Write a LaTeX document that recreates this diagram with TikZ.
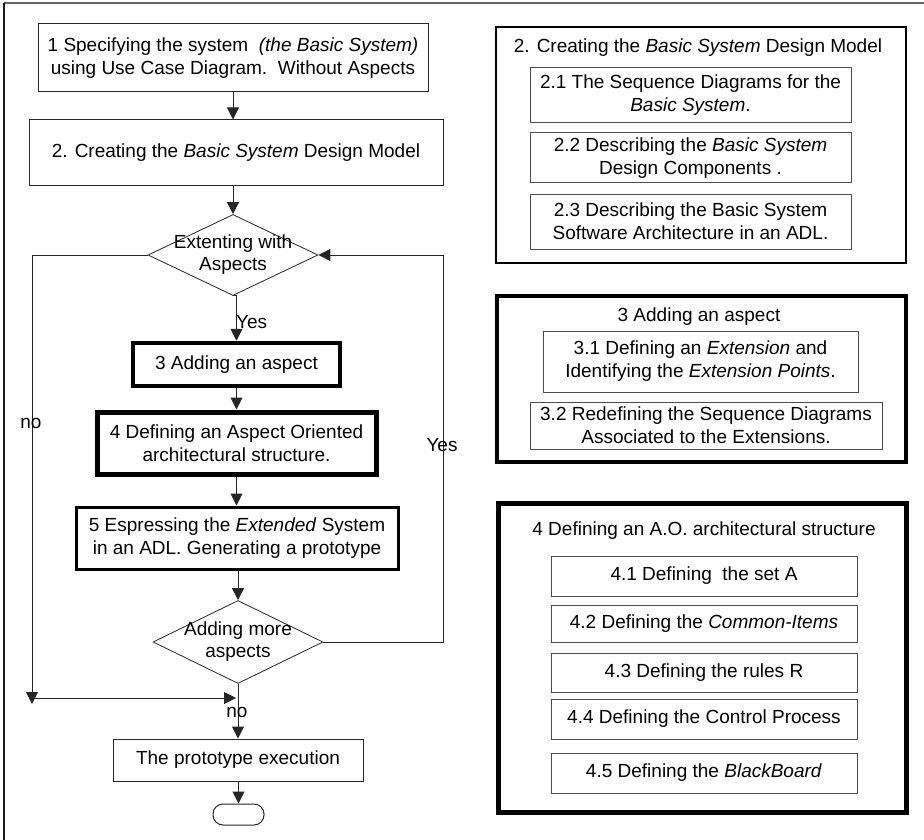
\documentclass[tikz,border=0pt]{standalone}
\usepackage{fontspec}
\setmainfont{Liberation Sans}
\usetikzlibrary{shapes.geometric,arrows.meta}

\begin{document}
\begin{tikzpicture}[x=1pt,y=-1pt,
  every node/.style={font=\fontsize{19}{23}\selectfont},
  proc/.style={draw=black!85, line width=1pt, inner sep=0pt, align=center},
  sub/.style={draw=black!70, line width=1pt, inner sep=0pt, align=center},
  heavy/.style={draw=black, line width=#1, inner sep=0pt, align=center},
  decide/.style={diamond, draw=black!85, line width=0.8pt, inner sep=0pt},
  flow/.style={draw=black!85, line width=1pt, -{Triangle[length=12pt,width=12pt]}},
  tag/.style={inner sep=0pt}
]
\useasboundingbox (0,0) rectangle (924,840);

% page frame
\draw[line width=1.2pt, black!60] (4,3) -- (926,3);
\draw[line width=1.2pt, black!90] (4,3) -- (4,842);

% ---------- main flow ----------
\node[proc, minimum width=390, minimum height=68] (b1) at (233,58)
  {1 Specifying the system \ \textit{(the Basic System)}\\using Use Case Diagram.\ \ Without Aspects};
\node[proc, minimum width=414, minimum height=66] (b2) at (236,153)
  {2. Creating the \textit{Basic System} Design Model};
\node[decide, minimum width=170, minimum height=81,
      label={[align=center, font=\fontsize{19}{22}\selectfont]center:Extenting with\\Aspects}] (d1) at (233,255) {};
\node[heavy=4.5pt, minimum width=207, minimum height=43] (b3) at (236.5,364.5)
  {3 Adding an aspect};
\node[heavy=5pt, minimum width=279, minimum height=62] (b4) at (236.5,443)
  {4 Defining an Aspect Oriented\\architectural structure.};
\node[heavy=3pt, minimum width=322, minimum height=62] (b5) at (237,538)
  {5 Espressing the \textit{Extended} System\\in an ADL. Generating a prototype};
\node[decide, minimum width=170, minimum height=83,
      label={[align=center, font=\fontsize{19}{22}\selectfont]center:Adding more\\aspects}] (d2) at (238,642) {};
\node[proc, minimum width=250, minimum height=42] (b6) at (238,760)
  {The prototype execution};
\node[draw=black!85, line width=1pt, rounded corners=10pt, minimum width=51,
      minimum height=21, inner sep=0pt] (end) at (238.5,814.5) {};

\draw[flow] (b1.south) -- (b1.south |- b2.north);
\draw[flow] (b2.south -| d1.north) -- (d1.north);
\draw[flow] (d1.south) -- (d1.south -| b3.north) -- (b3.north);
\draw[flow] (b3.south) -- (b4.north);
\draw[flow] (b4.south) -- (b4.south |- b5.north);
\draw[flow] (b5.south -| d2.north) -- (d2.north);
\draw[flow] (d2.south) -- (d2.south |- b6.north);
\draw[flow] (b6.south -| end.north) -- (end.north);

% "no" branch of the first decision
\coordinate (nd) at (32,704);
\coordinate (jl) at (32,698);
\coordinate (jr) at (236,698);
\draw[flow] (d1.west) -| (nd);
\draw[flow] (jl) -- (jr);

% "Yes" loop back from the second decision
\coordinate (rl) at (443,255);
\draw[flow] (d2.east) -| (rl) -- (d1.east);

\node[tag, anchor=west] (ly1) at (236,322) {Yes};
\node[tag] (ln1) at (31,423) {no};
\node[tag] (ly2) at (442,445) {Yes};
\node[tag] (ln2) at (237,712) {no};

% ---------- step 2 detail ----------
\node[heavy=2.5pt, minimum width=410, minimum height=236] (g2) at (701,145) {};
\node[tag] (t2) at (698,48) {2. Creating the \textit{Basic System} Design Model};
\node[sub, minimum width=321, minimum height=55] (s21) at (690.5,95.5)
  {2.1 The Sequence Diagrams for the\\\textit{Basic System}.};
\node[sub, minimum width=321, minimum height=50] (s22) at (690.5,158)
  {2.2 Describing the \textit{Basic System}\\Design Components .};
\node[sub, minimum width=321, minimum height=55] (s23) at (690.5,221.5)
  {2.3 Describing the Basic System\\Software Architecture in an ADL.};

% ---------- step 3 detail ----------
\node[heavy=4pt, minimum width=409, minimum height=166] (g3) at (701.5,379) {};
\node[tag] (t3) at (699,317) {3 Adding an aspect};
\node[sub, minimum width=315, minimum height=61] (s31) at (700.5,361.5)
  {3.1 Defining an \textit{Extension} and\\Identifying the \textit{Extension Points}.};
\node[sub, minimum width=352, minimum height=47] (s32) at (706,425.5)
  {3.2 Redefining the Sequence Diagrams\\Associated to the Extensions.};

% ---------- step 4 detail ----------
\node[heavy=5pt, minimum width=408, minimum height=309] (g4) at (702,657.5) {};
\node[tag] (t4) at (704,531) {4 Defining an A.O. architectural structure};
\node[sub, minimum width=306, minimum height=40] (s41) at (704,576)
  {4.1 Defining \ the set A};
\node[sub, minimum width=306, minimum height=37] (s42) at (704,623.5)
  {4.2 Defining the \textit{Common-Items}};
\node[sub, minimum width=306, minimum height=39] (s43) at (704,672.5)
  {4.3 Defining the rules R};
\node[sub, minimum width=306, minimum height=40] (s44) at (704,719)
  {4.4 Defining the Control Process};
\node[sub, minimum width=306, minimum height=40] (s45) at (704,773)
  {4.5 Defining the \textit{BlackBoard}};
\end{tikzpicture}
\end{document}
